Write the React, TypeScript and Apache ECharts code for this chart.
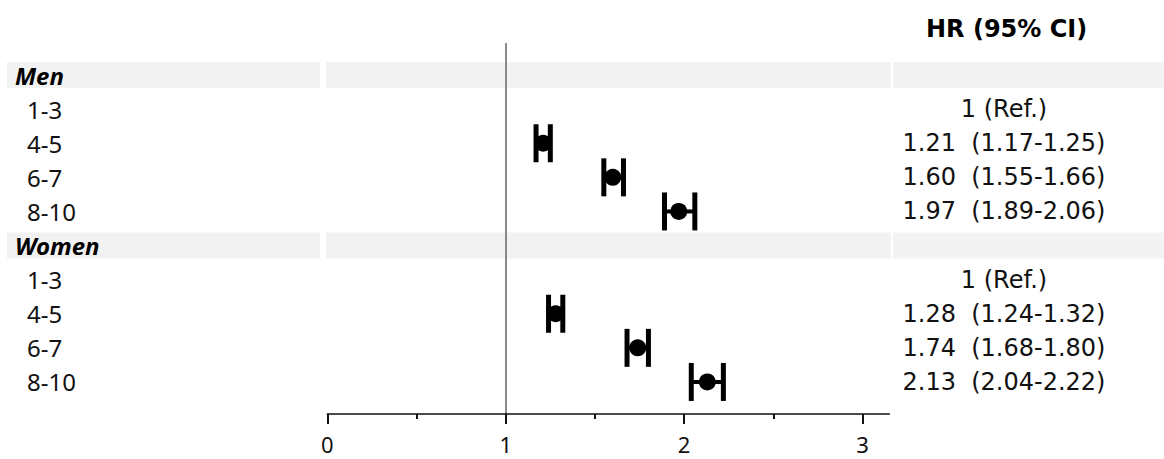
import React, { useEffect, useRef } from "react";
import * as echarts from "echarts";

// Forest plot: hazard ratios by score group, men and women
const groups = ["Men", "Women"];
const categories = ["1-3", "4-5", "6-7", "8-10"];
const menHR = [1, 1.21, 1.6, 1.97];
const menLo = [null, 1.17, 1.55, 1.89];
const menHi = [null, 1.25, 1.66, 2.06];
const womenHR = [1, 1.28, 1.74, 2.13];
const womenLo = [null, 1.24, 1.68, 2.04];
const womenHi = [null, 1.32, 1.8, 2.22];
const majorTicks = [0, 1, 2, 3];
const minorTicks = [0.5, 1.5, 2.5];
const headerTitle = "HR (95% CI)";
const refLabel = "1 (Ref.)";

type Row = { label: string; header: boolean; hr?: number; lo?: number | null; hi?: number | null };

function buildRows(): Row[] {
  const rows: Row[] = [];
  const sets = [
    [menHR, menLo, menHi],
    [womenHR, womenLo, womenHi],
  ];
  groups.forEach((g, gi) => {
    rows.push({ label: g, header: true });
    const [hr, lo, hi] = sets[gi];
    categories.forEach((c, ci) => {
      rows.push({ label: c, header: false, hr: hr[ci] as number, lo: lo[ci], hi: hi[ci] });
    });
  });
  return rows;
}

const rows = buildRows();
const rowIdx = rows.map((_, i) => i);

function ciText(r: Row): string {
  if (r.header) return "";
  if (r.lo == null || r.hi == null) return refLabel;
  return `${(r.hr as number).toFixed(2)}\u00a0\u00a0(${r.lo.toFixed(2)}-${r.hi.toFixed(2)})`;
}

const estData = rows
  .map((r, i) => (r.header || r.lo == null ? null : [i, r.hr, r.lo, r.hi]))
  .filter((d) => d !== null) as number[][];
const headerData = rows.map((r, i) => (r.header ? [i] : null)).filter((d) => d !== null) as number[][];

export default function App() {
  const ref = useRef<HTMLDivElement>(null);

  useEffect(() => {
    document.body.style.margin = "0";
    if (!ref.current) return;
    const chart = echarts.init(ref.current, null, { renderer: "svg" });

    const width = 1164;
    const gridLeft = 327.3;
    const gridRight = 274.7;

    const yCommon = {
      type: "value" as const,
      inverse: true,
      min: -0.94,
      max: 9.94,
      z: 5,
      axisLine: { show: false },
      axisTick: { show: false },
      splitLine: { show: false },
    };

    chart.setOption({
      animation: false,
      backgroundColor: "#ffffff",
      textStyle: { fontFamily: "Noto Sans" },
      grid: { left: gridLeft, right: gridRight, top: 43, bottom: 45 },
      graphic: [
        {
          type: "text",
          left: 1008 - 82,
          top: 17,
          style: {
            text: headerTitle,
            fontFamily: "DejaVu Sans",
            fontWeight: "bold",
            fontSize: 24,
            fill: "#000",
          },
        },
      ],
      xAxis: [
        {
          type: "value",
          min: 0,
          max: 3.15,
          position: "bottom",
          z: 5,
          axisLine: { show: true, onZero: false, lineStyle: { color: "#111", width: 1.5 } },
          axisTick: { show: true, customValues: majorTicks, length: 10, lineStyle: { color: "#111", width: 2 } },
          axisLabel: {
            customValues: majorTicks,
            formatter: (v: number) => String(v),
            margin: 19,
            fontFamily: "Noto Sans",
            fontSize: 22,
            color: "#111",
          },
          splitLine: { show: false },
        },
        {
          type: "value",
          min: 0,
          max: 3.15,
          position: "bottom",
          z: 5,
          axisLine: { show: false, onZero: false },
          axisTick: { show: true, customValues: minorTicks, length: 5, lineStyle: { color: "#111", width: 2 } },
          axisLabel: { show: false },
          splitLine: { show: false },
        },
      ],
      yAxis: [
        {
          ...yCommon,
          position: "left",
          axisLabel: {
            customValues: rowIdx,
            align: "left",
            margin: gridLeft - 15,
            formatter: (v: number) => {
              const r = rows[Math.round(v)];
              if (!r) return "";
              return r.header ? `{h|${r.label}}` : `{i|${r.label}}`;
            },
            rich: {
              h: { fontFamily: "Noto Sans", fontSize: 24, fontWeight: "bold", fontStyle: "italic", color: "#000" },
              i: { fontFamily: "Noto Sans", fontSize: 24, color: "#111", padding: [0, 0, 0, 12] },
            },
          },
        },
        {
          ...yCommon,
          position: "right",
          axisLabel: {
            customValues: rowIdx,
            align: "center",
            margin: 1004 - (width - gridRight),
            fontFamily: "DejaVu Sans",
            fontSize: 24,
            color: "#111",
            formatter: (v: number) => {
              const r = rows[Math.round(v)];
              return r ? ciText(r) : "";
            },
          },
        },
      ],
      series: [
        {
          // shaded group header bands across the table
          type: "custom",
          xAxisIndex: 0,
          yAxisIndex: 0,
          clip: false,
          silent: true,
          z: 1,
          data: headerData,
          encode: { y: 0 },
          renderItem: (params: any, api: any) => {
            const y = api.coord([0, api.value(0)])[1];
            const h = 26;
            const mk = (x1: number, x2: number, fill: string) => ({
              type: "rect",
              shape: { x: x1, y: y - h / 2, width: x2 - x1, height: h },
              style: { fill },
            });
            return {
              type: "group",
              children: [mk(7, 320, "#f2f2f2"), mk(326, 891, "#f2f2f2"), mk(893, 1164, "#f3f3f3")],
            };
          },
          markLine: {
            silent: true,
            symbol: "none",
            z: 2,
            label: { show: false },
            lineStyle: { color: "#8a8a8a", width: 2, type: "solid" },
            data: [{ xAxis: 1 }],
          },
        },
        {
          // point estimates with 95% confidence interval whiskers
          type: "custom",
          xAxisIndex: 0,
          yAxisIndex: 0,
          z: 10,
          data: estData,
          encode: { x: [1, 2, 3], y: 0 },
          renderItem: (params: any, api: any) => {
            const y = api.value(0);
            const pE = api.coord([api.value(1), y]);
            const pL = api.coord([api.value(2), y]);
            const pH = api.coord([api.value(3), y]);
            const h = 19;
            const stroke = "#000";
            return {
              type: "group",
              children: [
                { type: "line", shape: { x1: pL[0], y1: pL[1], x2: pH[0], y2: pH[1] }, style: { stroke, lineWidth: 4 } },
                { type: "line", shape: { x1: pL[0], y1: pL[1] - h, x2: pL[0], y2: pL[1] + h }, style: { stroke, lineWidth: 5 } },
                { type: "line", shape: { x1: pH[0], y1: pH[1] - h, x2: pH[0], y2: pH[1] + h }, style: { stroke, lineWidth: 5 } },
                { type: "circle", shape: { cx: pE[0], cy: pE[1], r: 8.5 }, style: { fill: stroke } },
              ],
            };
          },
        },
      ],
    });

    return () => chart.dispose();
  }, []);

  return <div ref={ref} style={{ width: 1164, height: 459 }} />;
}
